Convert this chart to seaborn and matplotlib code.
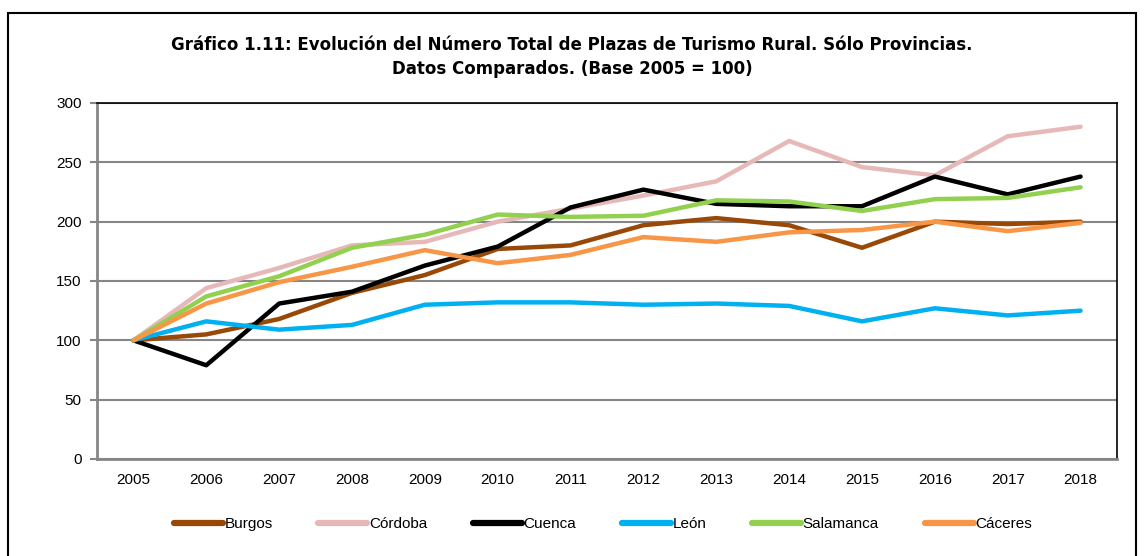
import matplotlib
matplotlib.use("Agg")
import matplotlib.pyplot as plt
import matplotlib.patches as mpatches
from matplotlib import font_manager
import seaborn as sns
import pandas as pd

years = [str(y) for y in range(2005, 2019)]
burgos = [100, 105, 118, 140, 155, 177, 180, 197, 203, 197, 178, 200, 198, 200]
cordoba = [100, 144, 161, 180, 183, 200, 211, 222, 234, 268, 246, 239, 272, 280]
cuenca = [100, 79, 131, 141, 163, 179, 212, 227, 215, 213, 213, 238, 223, 238]
leon = [100, 116, 109, 113, 130, 132, 132, 130, 131, 129, 116, 127, 121, 125]
salamanca = [100, 137, 154, 178, 189, 206, 204, 205, 218, 217, 209, 219, 220, 229]
caceres = [100, 131, 149, 162, 176, 165, 172, 187, 183, 191, 193, 200, 192, 199]

series_names = ["Burgos", "Córdoba", "Cuenca", "León", "Salamanca", "Cáceres"]
series_vals = [burgos, cordoba, cuenca, leon, salamanca, caceres]
colors = ["#984807", "#E6B9B8", "#000000", "#00B0F0", "#92D050", "#F79646"]

title = ("Gráfico 1.11: Evolución del Número Total de Plazas de Turismo Rural. Sólo Provincias.\n"
         "Datos Comparados. (Base 2005 = 100)")

rows = []
for name, vals in zip(series_names, series_vals):
    for i, v in enumerate(vals):
        rows.append({"idx": i, "value": v, "serie": name})
df = pd.DataFrame(rows)

sns.set_theme(style="white")
installed = {f.name for f in font_manager.fontManager.ttflist}
tick_font = "Liberation Sans Narrow" if "Liberation Sans Narrow" in installed else "Liberation Sans"
plt.rcParams["font.family"] = ["Liberation Sans", "DejaVu Sans"]
plt.rcParams["text.color"] = "black"

fig = plt.figure(figsize=(11.44, 5.56), dpi=100)
ax = fig.add_axes([97 / 1144, 1 - 459 / 556, (1117 - 97) / 1144, (459 - 103) / 556])

# outer chart border
fig.patches.append(mpatches.Rectangle((8 / 1144, -0.02), (1136 - 8) / 1144, 1 - 13 / 556 + 0.02,
                                      transform=fig.transFigure, fill=False,
                                      edgecolor="black", linewidth=1.5, zorder=0))

sns.lineplot(data=df, x="idx", y="value", hue="serie", palette=colors,
             hue_order=series_names, linewidth=3.2, ax=ax, legend=False,
             sort=False, estimator=None)

ax.set_xlim(-0.5, 13.5)
ax.set_ylim(0, 300)
ax.set_yticks(range(0, 301, 50))
ax.set_xticks(range(14))
ax.set_xticklabels(years)
ax.set_xticks([i - 0.5 for i in range(15)], minor=True)
ax.tick_params(axis="x", which="major", length=0, pad=10, labelsize=11)
ax.tick_params(axis="x", which="minor", length=5, width=1.5, color="#868686", direction="out")
ax.tick_params(axis="y", length=5, width=1.5, color="#868686", pad=6, labelsize=11, left=True)
for lbl in ax.get_xticklabels() + ax.get_yticklabels():
    lbl.set_family([tick_font, "DejaVu Sans"])
    lbl.set_color("#000000")
ax.set_xlabel("")
ax.set_ylabel("")
ax.yaxis.grid(True, color="#868686", linewidth=1.5)
ax.set_axisbelow(True)
for s in ["left", "bottom"]:
    ax.spines[s].set_color("#868686")
    ax.spines[s].set_linewidth(2)
for s in ["top", "right"]:
    ax.spines[s].set_color("#000000")
    ax.spines[s].set_linewidth(1.2)

fig.text(0.5, 1 - 57 / 556, title, ha="center", va="center", fontsize=12,
         fontweight="bold", linespacing=1.4, family=["DejaVu Sans"], color="black")

handles = [plt.Line2D([], [], color=c, linewidth=4.5, solid_capstyle="round") for c in colors]
leg = fig.legend(handles, series_names, loc="center", bbox_to_anchor=(0.527, 1 - 524 / 556),
                 ncol=6, frameon=False, handlelength=3.2, handletextpad=0.1,
                 columnspacing=3.0, prop={"family": tick_font, "size": 11})
for t in leg.get_texts():
    t.set_color("black")

fig.savefig("out.png", dpi=100)
